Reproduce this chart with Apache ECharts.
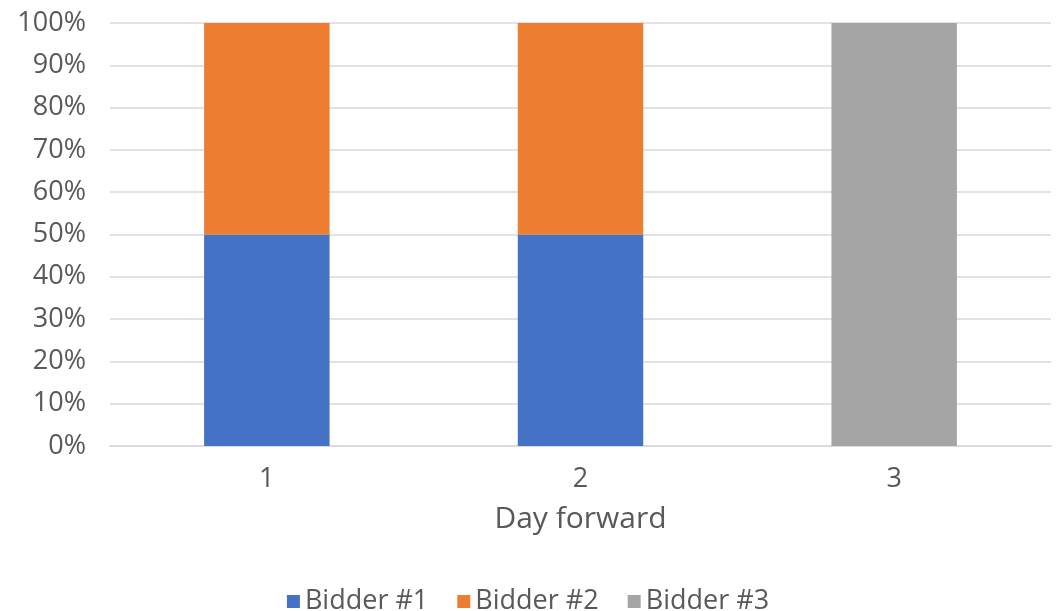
<!DOCTYPE html>
<html><head><meta charset="utf-8">
<script src="https://cdn.jsdelivr.net/npm/echarts@6/dist/echarts.min.js"></script>
<style>html,body{margin:0;padding:0;background:#fff}#c{width:1056px;height:611px}</style>
</head><body><div id="c"></div>
<script>
const categories = ['1', '2', '3'];
const bidder1 = [50, 50, 0];
const bidder2 = [50, 50, 0];
const bidder3 = [0, 0, 100];
const seriesNames = ['Bidder #1', 'Bidder #2', 'Bidder #3'];
const colors = ['#4472C4', '#ED7D31', '#A5A5A5'];
const FONT = '"Open Sans", "Noto Sans", sans-serif';
const chart = echarts.init(document.getElementById('c'));
const seriesData = [bidder1, bidder2, bidder3];
chart.setOption({
  animation: false,
  color: colors,
  textStyle: { fontFamily: FONT },
  grid: { left: 110, right: 5, top: 23, bottom: 165, containLabel: false },
  xAxis: {
    type: 'category', data: categories,
    axisLine: { lineStyle: { color: '#d9d9d9', width: 1.5 } },
    axisTick: { show: false },
    axisLabel: { color: '#595959', fontSize: 27, fontFamily: FONT, margin: 20 },
    name: 'Day forward', nameLocation: 'middle', nameGap: 58,
    nameTextStyle: { color: '#595959', fontSize: 30, fontFamily: FONT }
  },
  yAxis: {
    type: 'value', min: 0, max: 100, interval: 10,
    axisLine: { show: false }, axisTick: { show: false },
    axisLabel: { color: '#595959', fontSize: 27, fontFamily: FONT, margin: 24, formatter: '{value}%' },
    splitLine: { lineStyle: { color: '#d9d9d9', width: 1.5 } }
  },
  legend: {
    top: 583, left: 'center', icon: 'rect', itemWidth: 13, itemHeight: 13, itemGap: 29,
    textStyle: { color: '#595959', fontSize: 27, fontFamily: FONT },
    data: seriesNames
  },
  series: seriesData.map((d, i) => ({
    name: seriesNames[i], type: 'bar', stack: 'total', data: d,
    barWidth: '40%'
  }))
});
</script></body></html>
